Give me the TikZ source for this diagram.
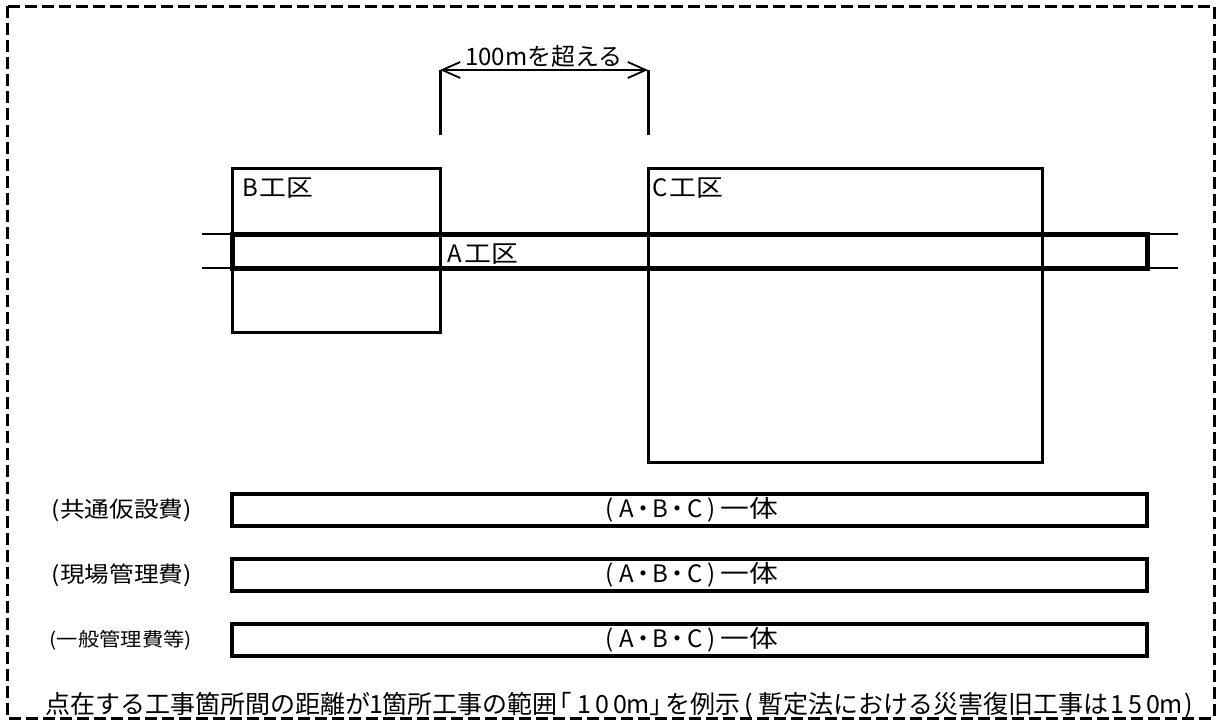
\documentclass[tikz,border=0pt]{standalone}
\usepackage{fontspec}
\setmainfont{Noto Sans CJK JP}
\newfontfamily\jpwide[FakeStretch=1.2]{Noto Sans CJK JP}
\newfontfamily\jplabel[FakeStretch=1.12]{Noto Sans CJK JP}
\usetikzlibrary{arrows.meta,positioning}
\tikzset{
  zone/.style={draw, line width=3pt, inner sep=0pt, outer sep=0pt},
  road/.style={draw, line width=5pt, inner sep=0pt, outer sep=0pt},
  costbox/.style={draw, line width=3.2pt, minimum width=915pt, minimum height=32pt, inner sep=0pt, outer sep=0pt, font=\jpwide\fontsize{24}{24}\selectfont},
  zonename/.style={anchor=base west, inner sep=0pt, font=\jplabel\fontsize{24}{24}\selectfont},
  costname/.style={inner sep=0pt, font=\jplabel\fontsize{22}{22}\selectfont},
  dimarrow/.style={line width=1.8pt, {Straight Barb[length=18pt,width=16pt]}-{Straight Barb[length=18pt,width=16pt]}},
}
\newcommand{\hc}[2][18pt]{\makebox[#1]{\rmfamily #2}}

\begin{document}
\begin{tikzpicture}[x=1pt,y=-1pt]
\useasboundingbox (0,0) rectangle (1217,720);
\draw[line width=3pt, dash pattern=on 12pt off 5pt] (7,6) rectangle (1214,718);
% work zones
\draw (336, 250) node [zone, minimum width=208pt, minimum height=164pt] (B) {};
\draw (845, 315) node [zone, minimum width=394pt, minimum height=294pt] (C) {};
\draw (689.5, 251) node [road, minimum width=915pt, minimum height=34pt] (A) {};
\node[zonename] (Bname) at (241, 196) {\hc{B}工区};
\node[zonename] (Aname) at (446, 262) {\hc{A}工区};
\node[zonename] (Cname) at (651, 196) {\hc{C}工区};
% road continues
\coordinate (Aw1) at (202, 234);
\coordinate (Aw2) at (202, 268);
\coordinate (Ae1) at (1178, 234);
\coordinate (Ae2) at (1178, 268);
\draw[line width=2.2pt] (A.north west) -- (Aw1);
\draw[line width=2.2pt] (A.south west) -- (Aw2);
\draw[line width=2.2pt] (A.north east) -- (Ae1);
\draw[line width=2.2pt] (A.south east) -- (Ae2);
% distance between zones
\coordinate (tickL) at (440, 135);
\coordinate (tickR) at (648, 135);
\coordinate (dimL) at (440, 70);
\coordinate (dimR) at (648, 70);
\draw[line width=3pt] (tickL) -- (dimL);
\draw[line width=3pt] (tickR) -- (dimR);
\draw[dimarrow] (dimL) -- (dimR);
\node[anchor=base, inner sep=0pt, font=\fontsize{24}{24}\selectfont] (gap) at (544, 65) {100mを超える};
% cost rows
\draw (689.5, 510) node [costbox] (fee1) {\hc[17pt]{(}\hc[17pt]{A}\hc[17pt]{・}\hc[17pt]{B}\hc[17pt]{・}\hc[17pt]{C}\hc[17pt]{)}一体};
\draw (689.5, 575) node [costbox] (fee2) {\hc[17pt]{(}\hc[17pt]{A}\hc[17pt]{・}\hc[17pt]{B}\hc[17pt]{・}\hc[17pt]{C}\hc[17pt]{)}一体};
\draw (689.5, 640) node [costbox] (fee3) {\hc[17pt]{(}\hc[17pt]{A}\hc[17pt]{・}\hc[17pt]{B}\hc[17pt]{・}\hc[17pt]{C}\hc[17pt]{)}一体};
\node[costname, left=40pt of fee1] (lbl1) {(共通仮設費)};
\node[costname, left=40pt of fee2] (lbl2) {(現場管理費)};
\node[costname, left=40pt of fee3, font=\jplabel\fontsize{19}{19}\selectfont] (lbl3) {(一般管理費等)};
% note
\node[anchor=base west, inner sep=0pt, font=\fontsize{25}{25}\selectfont] (note) at (45, 713) {点在する工事箇所間の距離が\hc[12pt]{1}箇所工事の範囲\hc{｢}\hc{1}\hc{0}\hc{0}\hc{m}\hc{｣}を例示\hc{(}暫定法における災害復旧工事は\hc{1}\hc{5}\hc{0}\hc{m}\hc{)}};
\end{tikzpicture}
\end{document}
